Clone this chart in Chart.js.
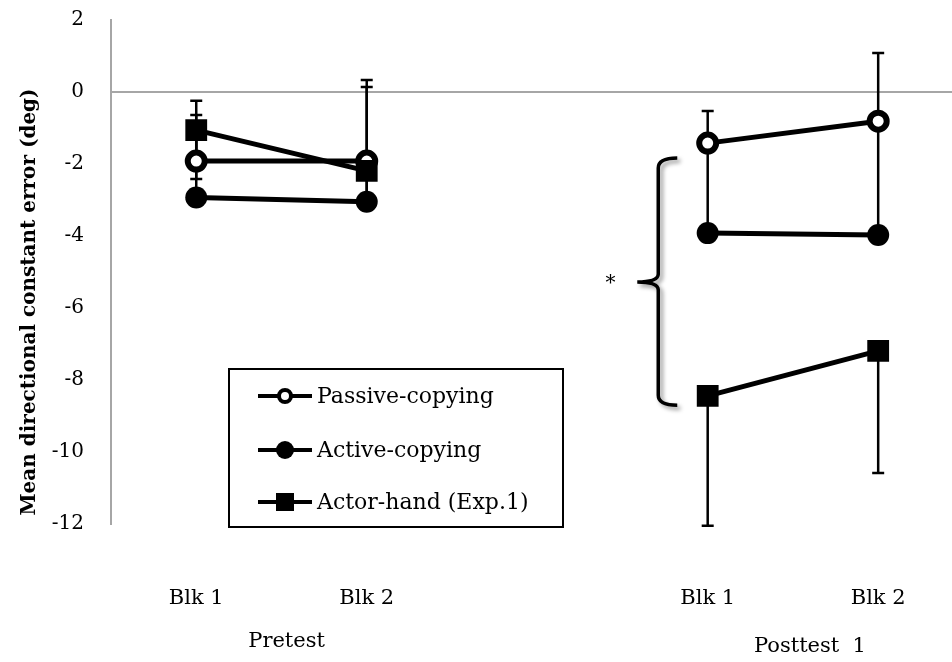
<!DOCTYPE html>
<html>
<head>
<meta charset="utf-8">
<script src="https://cdn.jsdelivr.net/npm/chart.js@4/dist/chart.umd.min.js"></script>
<style>
  html, body { margin: 0; padding: 0; background: #fff; }
  #wrap { width: 952px; height: 662px; }
</style>
</head>
<body>
<div id="wrap"><canvas id="chart"></canvas></div>
<script>
// categories
const blockLabels = ["Blk 1", "Blk 2", "Blk 1", "Blk 2"];
const blockPos = [1, 2, 4, 5];
const phaseLabels = ["Pretest", "Posttest  1"];
const phasePos = [1.53, 4.6];
const yTickValues = [2, 0, -2, -4, -6, -8, -10, -12];

// series (deg) and their one-sided error bars
const passive = [-1.92, -1.92, -1.42, -0.81];
const passiveErrUp = [1.28, 2.25, 0.89, 1.89];
const active = [-2.93, -3.05, -3.92, -3.97];
const activeErrUp = [2.69, 3.19, 2.45, 3.1];
const actor = [-1.06, -2.19, -8.44, -7.19];
const actorErrDown = [1.36, 0.9, 3.61, 3.39];

// significance brace (data units)
const braceTop = -1.83;
const braceBottom = -8.7;
const braceMid = -5.28;
const braceX = 3.71;
const starX = 3.43;

const FONT = "'DejaVu Serif', 'Liberation Serif', serif";

const toPoints = (vals) => vals.map((v, i) => ({ x: blockPos[i], y: v }));

const series = [
  { label: "Passive-copying", data: passive, up: passiveErrUp, down: null,
    style: "circle", radius: 8.5, border: 6, fill: "#fff", order: 2 },
  { label: "Active-copying", data: active, up: activeErrUp, down: null,
    style: "circle", radius: 11, border: 0, fill: "#000", order: 1 },
  { label: "Actor-hand (Exp.1)", data: actor, up: null, down: actorErrDown,
    style: "rect", radius: 14, border: 2, fill: "#000", order: 0 },
];

const errorBars = {
  id: "errorBars",
  beforeDatasetsDraw(chart) {
    const { ctx } = chart;
    const x = chart.scales.x, y = chart.scales.y;
    ctx.save();
    ctx.strokeStyle = "#000";
    ctx.lineWidth = 2.5;
    series.forEach((s) => {
      s.data.forEach((v, i) => {
        const px = x.getPixelForValue(blockPos[i]);
        const ends = [];
        if (s.up) ends.push(v + s.up[i]);
        if (s.down) ends.push(v - s.down[i]);
        ends.forEach((e) => {
          const p0 = y.getPixelForValue(v), p1 = y.getPixelForValue(e);
          ctx.beginPath();
          ctx.moveTo(px, p0); ctx.lineTo(px, p1);
          ctx.moveTo(px - 6, p1); ctx.lineTo(px + 6, p1);
          ctx.stroke();
        });
      });
    });
    ctx.restore();
  },
};

const extras = {
  id: "extras",
  afterDraw(chart) {
    const { ctx } = chart;
    const x = chart.scales.x, y = chart.scales.y;
    ctx.save();

    // y title
    ctx.fillStyle = "#000";
    ctx.font = "bold 20px " + FONT;
    ctx.textAlign = "center";
    ctx.textBaseline = "middle";
    ctx.translate(30, 302);
    ctx.rotate(-Math.PI / 2);
    ctx.fillText("Mean directional constant error (deg)", 0, 0);
    ctx.setTransform(1, 0, 0, 1, 0, 0);

    // phase labels
    ctx.font = "21px " + FONT;
    phaseLabels.forEach((t, i) => {
      ctx.fillText(t, x.getPixelForValue(phasePos[i]), i === 0 ? 642 : 647);
    });

    // brace
    const xv = x.getPixelForValue(braceX);
    const xr = xv + 19, xl = xv - 21;
    const t = y.getPixelForValue(braceTop), b = y.getPixelForValue(braceBottom), m = y.getPixelForValue(braceMid);
    ctx.save();
    ctx.shadowColor = "rgba(0,0,0,0.4)";
    ctx.shadowOffsetX = 3;
    ctx.shadowOffsetY = 3;
    ctx.shadowBlur = 4;
    ctx.strokeStyle = "#000";
    ctx.lineWidth = 3.5;
    ctx.beginPath();
    ctx.moveTo(xr, t);
    ctx.quadraticCurveTo(xv, t, xv, t + 10);
    ctx.lineTo(xv, m - 8);
    ctx.quadraticCurveTo(xv, m, xl, m);
    ctx.quadraticCurveTo(xv, m, xv, m + 8);
    ctx.lineTo(xv, b - 10);
    ctx.quadraticCurveTo(xv, b, xr, b);
    ctx.stroke();
    ctx.restore();
    ctx.font = "20px " + FONT;
    ctx.fillText("*", x.getPixelForValue(starX), m + 2);

    // legend
    const lx = 229, ly = 369, lw = 334, lh = 158;
    ctx.fillStyle = "#fff";
    ctx.fillRect(lx, ly, lw, lh);
    ctx.strokeStyle = "#000";
    ctx.lineWidth = 2;
    ctx.strokeRect(lx, ly, lw, lh);
    const rows = [396, 450, 502];
    ctx.font = "22px " + FONT;
    ctx.textAlign = "left";
    series.forEach((s, i) => {
      const cy = rows[i];
      ctx.strokeStyle = "#000";
      ctx.lineWidth = 4;
      ctx.beginPath();
      ctx.moveTo(258, cy); ctx.lineTo(312, cy);
      ctx.stroke();
      ctx.fillStyle = "#000";
      if (s.style === "rect") {
        ctx.fillRect(285 - 9, cy - 9, 18, 18);
      } else if (s.fill === "#fff") {
        ctx.beginPath(); ctx.arc(285, cy, 6, 0, Math.PI * 2);
        ctx.fillStyle = "#fff"; ctx.fill();
        ctx.lineWidth = 4; ctx.stroke();
      } else {
        ctx.beginPath(); ctx.arc(285, cy, 9, 0, Math.PI * 2); ctx.fill();
      }
      ctx.fillStyle = "#000";
      ctx.fillText(s.label, 317, cy + 1);
    });
    ctx.restore();
  },
};

new Chart(document.getElementById("chart"), {
  type: "line",
  data: {
    datasets: series.map((s) => ({
      label: s.label,
      data: toPoints(s.data),
      order: s.order,
      borderColor: "#000",
      borderWidth: 5,
      pointStyle: s.style,
      pointRadius: s.radius,
      pointBorderWidth: s.border,
      pointBorderColor: "#000",
      pointBackgroundColor: s.fill,
      tension: 0,
      segment: {
        borderColor: (c) => (c.p1DataIndex === 2 ? "transparent" : "#000"),
      },
    })),
  },
  options: {
    responsive: true,
    maintainAspectRatio: false,
    animation: false,
    layout: { autoPadding: false, padding: { top: 20, left: 0, right: 0, bottom: 0 } },
    plugins: { legend: { display: false }, tooltip: { enabled: false } },
    scales: {
      x: {
        type: "linear",
        min: 0.5,
        max: 5.433,
        grid: { display: false, drawTicks: false },
        border: { display: false },
        afterBuildTicks: (sc) => { sc.ticks = blockPos.map((v) => ({ value: v })); },
        afterFit: (sc) => { sc.height = 138; sc.paddingLeft = 0; sc.paddingRight = 0; },
        ticks: {
          padding: 62,
          color: "#000",
          font: { family: FONT, size: 21 },
          maxRotation: 0,
          callback: (v) => blockLabels[blockPos.indexOf(v)],
        },
      },
      y: {
        min: -12,
        max: 2,
        afterBuildTicks: (sc) => { sc.ticks = yTickValues.map((v) => ({ value: v })); },
        afterFit: (sc) => { sc.width = 111; sc.paddingTop = 0; sc.paddingBottom = 0; },
        grid: {
          drawTicks: false,
          lineWidth: 2,
          color: (c) => (c.tick && c.tick.value === 0 ? "#a6a6a6" : "transparent"),
        },
        border: { display: true, color: "#a6a6a6", width: 2 },
        ticks: {
          padding: 27,
          color: "#000",
          font: { family: FONT, size: 20 },
        },
      },
    },
  },
  plugins: [errorBars, extras],
});
</script>
</body>
</html>
